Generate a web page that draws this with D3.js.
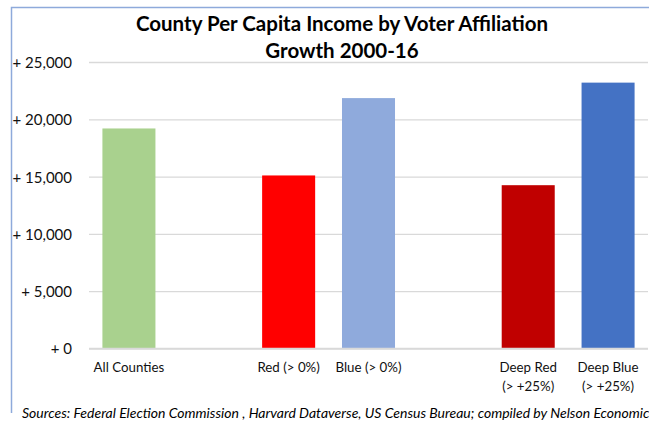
<!DOCTYPE html>
<html>
<head>
<meta charset="utf-8">
<script src="https://cdn.jsdelivr.net/npm/d3@7"></script>
<style>
  html, body { margin: 0; padding: 0; background: #fff; }
  svg { display: block; }
</style>
</head>
<body>
<svg id="chart" width="649" height="424"></svg>
<script>
// ---- data ----
const titleLines = ["County Per Capita Income by Voter Affiliation", "Growth 2000-16"];
const categories = ["All Counties", "", "Red (> 0%)", "Blue (> 0%)", " ", "Deep Red\n(> +25%)", "Deep Blue\n(> +25%)"];
const values = [19200, null, 15100, 21850, null, 14250, 23200];
const barColors = ["#a9d18e", null, "#ff0000", "#8faadc", null, "#c00000", "#4472c4"];
const yTicks = [0, 5000, 10000, 15000, 20000, 25000];
const sourceText = "Sources: Federal Election Commission , Harvard Dataverse, US Census Bureau; compiled by Nelson Economics";

// ---- layout ----
const W = 649, H = 424;
const plot = { left: 89, right: 648, top: 62, bottom: 348.5 };
const font = "Lato, 'Noto Sans', sans-serif";

const svg = d3.select("#chart");
svg.append("rect").attr("width", W).attr("height", H).attr("fill", "#fff");

// chart frame (cropped): top and left border
svg.append("path")
  .attr("d", "M11.5,413 L11.5,7.5 L649,7.5")
  .attr("fill", "none").attr("stroke", "#8eaadb").attr("stroke-width", 1.5);

const x = d3.scaleBand().domain(categories).range([plot.left, plot.right])
  .paddingInner(0.336).paddingOuter(0.168);
const y = d3.scaleLinear().domain([0, 25000]).range([plot.bottom, plot.top]);

// gridlines
const yAxis = d3.axisLeft(y).tickValues(yTicks).tickSize(-(plot.right - plot.left))
  .tickPadding(17)
  .tickFormat(d => "+ " + d3.format(",")(d));
const gy = svg.append("g").attr("transform", `translate(${plot.left},0)`).call(yAxis);
gy.select(".domain").remove();
gy.selectAll(".tick line").attr("stroke", "#d9d9d9").attr("stroke-width", 1.3);
gy.selectAll(".tick text").attr("font-family", font).attr("font-size", 15)
  .attr("fill", "#111").attr("dy", "0.36em");

// bars
const data = categories.map((c, i) => ({ c, v: values[i], color: barColors[i] })).filter(d => d.v != null);
svg.append("g").selectAll("rect").data(data).join("rect")
  .attr("x", d => x(d.c))
  .attr("width", x.bandwidth())
  .attr("y", d => y(d.v))
  .attr("height", d => y(0) - y(d.v))
  .attr("fill", d => d.color);

// baseline axis
const xAxis = d3.axisBottom(x).tickSize(0).tickFormat("");
const gx = svg.append("g").attr("transform", `translate(0,${plot.bottom})`).call(xAxis);
gx.select(".domain").attr("stroke", "#d9d9d9").attr("stroke-width", 1.3)
  .attr("d", `M${plot.left},0H${plot.right}`);

// category labels
const lab = svg.append("g");
categories.forEach(c => {
  if (!c.trim()) return;
  const lines = c.split("\n");
  const t = lab.append("text")
    .attr("x", x(c) + x.bandwidth() / 2)
    .attr("y", 372)
    .attr("text-anchor", "middle")
    .attr("font-family", font).attr("font-size", 13.3).attr("fill", "#111");
  lines.forEach((ln, i) => t.append("tspan").attr("x", x(c) + x.bandwidth() / 2)
    .attr("dy", i === 0 ? 0 : 18.5).text(ln));
});

// title
titleLines.forEach((ln, i) => {
  svg.append("text").attr("x", 342).attr("y", 31 + i * 26.5)
    .attr("text-anchor", "middle")
    .attr("font-family", font).attr("font-weight", "bold").attr("font-size", 20.5)
    .attr("fill", "#000").text(ln);
});

// source
svg.append("text").attr("x", 22).attr("y", 418)
  .attr("font-family", font).attr("font-style", "italic").attr("font-size", 14)
  .attr("fill", "#000").text(sourceText);
</script>
</body>
</html>
